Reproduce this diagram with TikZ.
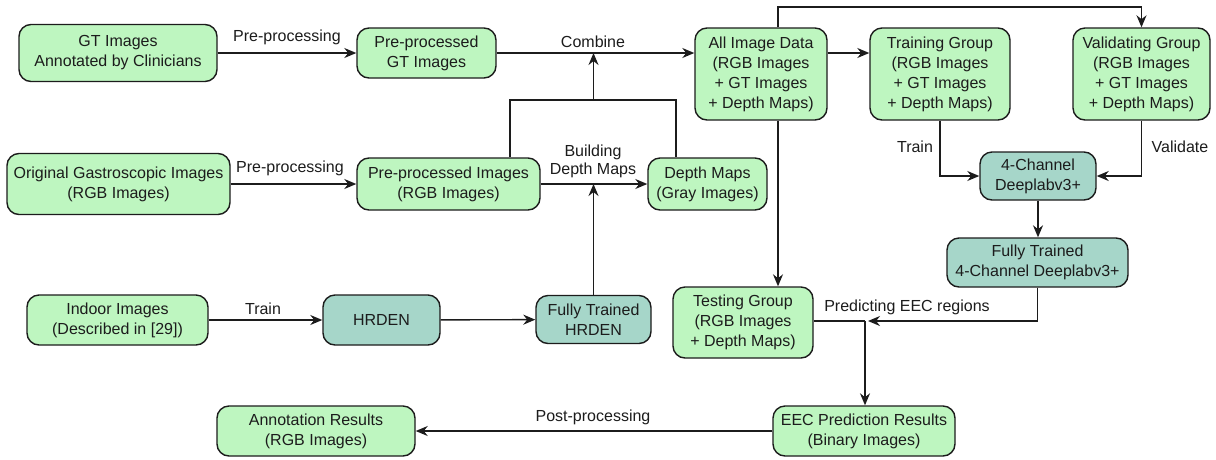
\documentclass[tikz,border=0pt]{standalone}
\usepackage{fontspec}
\setmainfont{Liberation Sans}
\usetikzlibrary{arrows.meta,calc}
\definecolor{lgreen}{RGB}{190,246,192}
\definecolor{lteal}{RGB}{166,214,201}
\definecolor{ink}{RGB}{28,28,28}
\tikzset{
  box/.style={draw=ink, line width=1.4pt, rounded corners=12pt, align=center,
    inner sep=0pt, text=ink, font=\fontsize{16}{20}\selectfont},
  gbox/.style={box, fill=lgreen},
  tbox/.style={box, fill=lteal},
  lbl/.style={align=center, inner sep=0pt, text=ink, font=\fontsize{16}{18}\selectfont},
  line/.style={draw=ink, line width=1.4pt},
  arr/.style={line, -{Stealth[length=12pt,width=10pt]}},
}
\begin{document}
\begin{tikzpicture}[x=1pt,y=-1pt]
\useasboundingbox (0,0) rectangle (1216,459);
\fill[white] (0,0) rectangle (1216,459);

% boxes
\node[gbox, minimum width=198pt, minimum height=57pt] (gt) at (118,53) {GT Images\\Annotated by Clinicians};
\node[gbox, minimum width=139pt, minimum height=50pt] (ppgt) at (426.5,53) {Pre-processed\\GT Images};
\node[gbox, minimum width=132pt, minimum height=92pt] (all) at (761,74) {All Image Data\\(RGB Images\\+ GT Images\\+ Depth Maps)};
\node[gbox, minimum width=140pt, minimum height=92pt] (train) at (940,74) {Training Group\\(RGB Images\\+ GT Images\\+ Depth Maps)};
\node[gbox, minimum width=137pt, minimum height=92pt] (valid) at (1141.5,74) {Validating Group\\(RGB Images\\+ GT Images\\+ Depth Maps)};
\node[gbox, minimum width=223pt, minimum height=61pt] (orig) at (118.5,184) {Original Gastroscopic Images\\(RGB Images)};
\node[gbox, minimum width=183pt, minimum height=52pt] (ppimg) at (448.5,184) {Pre-processed Images\\(RGB Images)};
\node[gbox, minimum width=119pt, minimum height=52pt] (depth) at (707.5,184) {Depth Maps\\(Gray Images)};
\node[tbox, minimum width=116pt, minimum height=48pt] (deep) at (1038,176) {4-Channel\\Deeplabv3+};
\node[tbox, minimum width=181pt, minimum height=49pt] (ft4) at (1037.5,262.5) {Fully Trained\\4-Channel Deeplabv3+};
\node[gbox, minimum width=181pt, minimum height=50pt] (indoor) at (117.5,320) {Indoor Images\\(Described in [29])};
\node[tbox, minimum width=117pt, minimum height=50pt] (hrden) at (381.5,320) {HRDEN};
\node[tbox, minimum width=115pt, minimum height=48pt] (fth) at (593.5,319.5) {Fully Trained\\HRDEN};
\node[gbox, minimum width=140pt, minimum height=71pt] (test) at (743,322.5) {Testing Group\\(RGB Images\\+ Depth Maps)};
\node[gbox, minimum width=182pt, minimum height=50pt] (eec) at (864,431) {EEC Prediction Results\\(Binary Images)};
\node[gbox, minimum width=198pt, minimum height=50pt] (annot) at (316,431) {Annotation Results\\(RGB Images)};

% routing points
\coordinate (topL) at (778,7);
\coordinate (loopL) at (510,100);
\coordinate (loopR) at (676,100);
\coordinate (cmb) at (593.5,100);
\coordinate (pj) at (865,321);
\coordinate (pjt) at (868,321);

% connectors
\draw[arr] (gt.east) -- (ppgt.west);
\draw[arr] (ppgt.east) -- (ppgt.east -| all.west);
\draw[arr] (all.east |- ppgt.east) -- (train.west |- ppgt.east);
\draw[arr] (all.north -| topL) -- (topL) -| (valid.north);
\draw[arr] (all.south -| topL) -- (test.north -| topL);
\draw[arr] (orig) -- (ppimg);
\draw[arr] (ppimg) -- (depth);
\draw[line] (ppimg.north -| loopL) -- (loopL) -- (loopR) -- (depth.north -| loopR);
\draw[arr] (cmb) -- (cmb |- ppgt.east);
\draw[arr] (indoor) -- (hrden);
\draw[arr] (hrden) -- (fth);
\draw[arr] (fth.north) -- (fth.north |- ppimg.east);
\draw[arr] (train.south) |- (deep.west);
\draw[arr] (valid.south) |- (deep.east);
\draw[arr] (deep.south) -- (deep.south |- ft4.north);
\draw[arr] (ft4.south) |- (pjt);
\draw[line] (pj) -- (test.east |- pj);
\draw[arr] (pj) -- (pj |- eec.north);
\draw[arr] (eec.west) -- (annot.east);

% connector labels
\node[lbl] (l1) at (287,37) {Pre-processing};
\node[lbl] (l2) at (290,168) {Pre-processing};
\node[lbl] (l3) at (593,42) {Combine};
\node[lbl] (l4) at (593,161) {Building\\Depth Maps};
\node[lbl] (l5) at (263,309) {Train};
\node[lbl] (l6) at (915,147) {Train};
\node[lbl] (l7) at (1180,147) {Validate};
\node[lbl] (l8) at (907,307) {Predicting EEC regions};
\node[lbl] (l9) at (593,417) {Post-processing};
\end{tikzpicture}
\end{document}
